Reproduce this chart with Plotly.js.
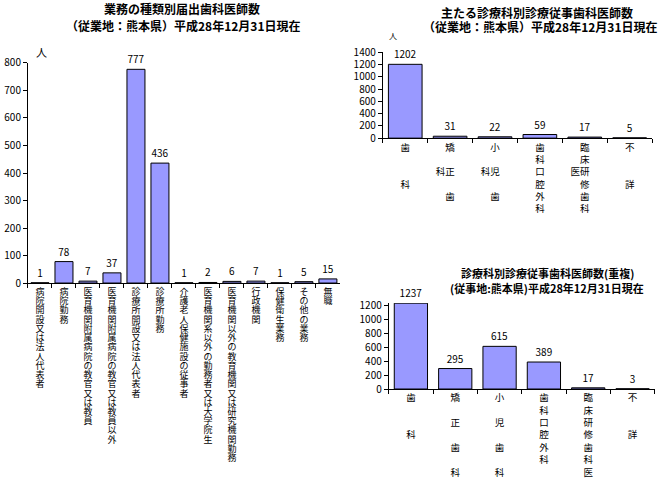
<!DOCTYPE html>
<html>
<head>
<meta charset="utf-8">
<script src="https://cdn.plot.ly/plotly-3.0.1.min.js"></script>
<style>html,body{margin:0;padding:0;background:#fff;}</style>
</head>
<body>
<div id="chart" style="width:660px;height:483px"></div>
<script>
// 業務の種類別
var workNames = ['病院開設又は法人代表者', '病院勤務', '医育機関附属病院の教官又は教員',
    '医育機関附属病院の教官又は教員以外', '診療所開設又は法人代表者', '診療所勤務',
    '介護老人保健施設の従事者', '医育機関系以外の勤務者又は大学院生',
    '医育機関以外の教育機関又は研究機関勤務', '行政機関', '保健衛生業務', 'その他の業務', '無職'];
var workCounts = [1, 78, 7, 37, 777, 436, 1, 2, 6, 7, 1, 5, 15];

// 主たる診療科別
var mainDepts = ['歯科', '矯正歯科', '小児歯科', '歯科口腔外科', '臨床研修歯科医', '不詳'];
var mainCounts = [1202, 31, 22, 59, 17, 5];
var mainTicks = ['歯<br><br><br>科', '矯<br><br>科正　<br><br>歯', '小<br><br>科児　<br><br>歯',
    '歯<br>科<br>口<br>腔<br>外<br>科', '臨<br>床<br>医研　<br>修<br>歯<br>科', '不<br><br><br>詳'];

// 診療科別（重複）
var dupCounts = [1237, 295, 615, 389, 17, 3];
var dupTicks = ['歯<br><br><br>科', '矯<br><br>正<br><br>歯<br><br>科', '小<br><br>児<br><br>歯<br><br>科',
    '歯<br>科<br>口<br>腔<br>外<br>科', '臨<br>床<br>研<br>修<br>歯<br>科<br>医', '不<br><br><br>詳'];

var FONT = '"Noto Sans CJK JP", "Noto Sans", sans-serif';
var BAR = '#9999ff';

function vertical(s) { return s.split('').join('<br>'); }

function barTrace(x, y, xa, ya) {
    return {
        type: 'bar', x: x, y: y, xaxis: xa, yaxis: ya,
        marker: {color: BAR, line: {color: '#000', width: 1}},
        texttemplate: '%{y}', textposition: 'outside', constraintext: 'none',
        textfont: {size: 10, color: '#000'}, cliponaxis: false,
        hoverinfo: 'skip'
    };
}

var data = [
    barTrace(workNames, workCounts, 'x', 'y'),
    barTrace(mainDepts, mainCounts, 'x2', 'y2'),
    barTrace(mainDepts, dupCounts, 'x3', 'y3')
];

function xAx(dom, anchor, vals, text, size) {
    return {
        domain: dom, anchor: anchor, type: 'category',
        showline: true, linecolor: '#000', linewidth: 1,
        ticks: 'outside', tickson: 'boundaries', ticklen: 4, tickcolor: '#000',
        tickmode: 'array', tickvals: vals, ticktext: text, tickangle: 0,
        tickfont: {size: size, color: '#000'}, showgrid: false, fixedrange: true
    };
}
function yAx(dom, anchor, range, dtick) {
    return {
        domain: dom, anchor: anchor, range: range, dtick: dtick,
        showline: true, linecolor: '#000', linewidth: 1,
        ticks: 'outside', ticklen: 4, tickcolor: '#000',
        tickfont: {size: 10, color: '#000'}, showgrid: false, zeroline: false, fixedrange: true
    };
}

function note(text, x, y, size) {
    return {text: text, x: x, y: y, xref: 'paper', yref: 'paper', xanchor: 'center', yanchor: 'middle',
        showarrow: false, font: {size: size, color: '#000'}};
}

var layout = {
    width: 660, height: 483, autosize: false,
    margin: {l: 0, r: 0, t: 0, b: 0},
    paper_bgcolor: '#fff', plot_bgcolor: '#fff',
    font: {family: FONT, color: '#000'},
    showlegend: false, bargap: 0.25,
    xaxis: xAx([0.0424, 0.515], 'y', workNames, workNames.map(vertical), 9),
    yaxis: yAx([0.414, 0.8696], 'x', [0, 800], 100),
    xaxis2: xAx([0.580, 0.988], 'y2', mainDepts, mainTicks, 9.5),
    yaxis2: yAx([0.714, 0.892], 'x2', [0, 1400], 200),
    xaxis3: xAx([0.589, 0.992], 'y3', mainDepts, dupTicks, 9.5),
    yaxis3: yAx([0.1946, 0.3727], 'x3', [0, 1240], 200),
    annotations: [
        note('<b>業務の種類別届出歯科医師数</b>', 0.2758, 0.9814, 12),
        note('<b>（従業地：熊本県）平成28年12月31日現在</b>', 0.2773, 0.9482, 12),
        note('人', 0.0636, 0.8923, 11),
        note('<b>主たる診療科別診療従事歯科医師数</b>', 0.8136, 0.9731, 12),
        note('<b>（従業地：熊本県）平成28年12月31日現在</b>', 0.818, 0.9441, 12),
        note('人', 0.5955, 0.9275, 8),
        note('<b>診療科別診療従事歯科医師数(重複)</b>', 0.8303, 0.4348, 11),
        note('<b>(従事地:熊本県)平成28年12月31日現在</b>', 0.8288, 0.4037, 11)
    ]
};

var gd = document.getElementById('chart');
Plotly.newPlot(gd, data, layout, {staticPlot: true, displayModeBar: false}).then(function () {
    // 左のグラフの縦書きラベルは行間を詰める
    gd.querySelectorAll('.xtick text').forEach(function (t) {
        if (workNames.indexOf(t.getAttribute('data-unformatted').split('<br>').join('')) < 0) return;
        t.querySelectorAll('tspan.line').forEach(function (sp) {
            var dy = parseFloat(sp.getAttribute('dy'));
            if (!isNaN(dy)) sp.setAttribute('dy', (dy * 0.79) + 'em');
        });
    });
});
</script>
</body>
</html>
